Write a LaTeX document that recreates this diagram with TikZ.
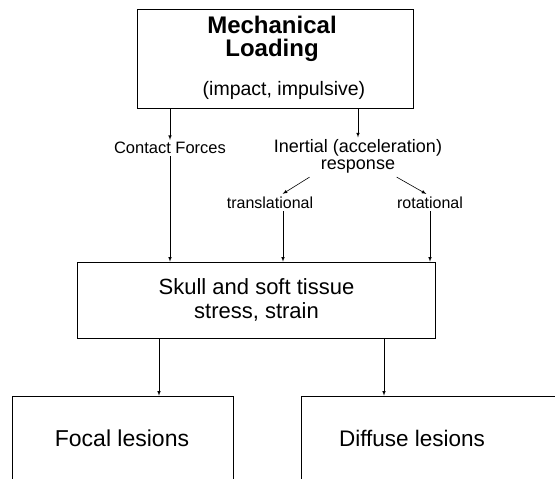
\documentclass[tikz,border=0pt]{standalone}
\usepackage{fontspec}
\setmainfont{Liberation Sans}
\usepackage{tikz}

\tikzset{
  box/.style={draw, line width=0.7pt, minimum width=#1, inner sep=0pt},
  lbl/.style={inner sep=2pt, align=center},
  arr/.style={-latex, line width=0.6pt}
}

\begin{document}
\begin{tikzpicture}[x=1pt, y=-1pt]
  \clip (0,0) rectangle (555,479);
  % Boxes
  \node[box=276pt, minimum height=99pt] (load) at (275,58.5) {};
  \node[box=358pt, minimum height=76pt] (tissue) at (256,300) {};
  \node[box=221pt, minimum height=140pt] (focal) at (122.5,466) {};
  \node[box=299pt, minimum height=140pt] (diffuse) at (450.5,466) {};
  % Box texts
  \node[lbl, font=\fontsize{24}{23}\selectfont\bfseries] (loadtxt) at (272,38.5)
    {Mechanical\\Loading};
  \node[lbl, font=\fontsize{19.5}{20}\selectfont] (impact) at (284,90) {(impact, impulsive)};
  \node[lbl, font=\fontsize{22}{24}\selectfont] (tissuetxt) at (256.5,300)
    {Skull and soft tissue\\stress, strain};
  \node[lbl, font=\fontsize{23}{24}\selectfont] (focaltxt) at (122,438) {Focal lesions};
  \node[lbl, font=\fontsize{22.5}{24}\selectfont] (diffusetxt) at (412,438) {Diffuse lesions};
  % Labels between boxes
  \node[lbl, font=\fontsize{16.5}{18}\selectfont] (contact) at (170,148) {Contact Forces};
  \node[lbl, font=\fontsize{18}{17}\selectfont] (inert) at (358,156.5)
    {Inertial (acceleration)\\response};
  \node[lbl, font=\fontsize{16}{18}\selectfont] (trans) at (270,203) {translational};
  \node[lbl, font=\fontsize{16}{18}\selectfont] (rot) at (430,203) {rotational};
  % Arrows
  \draw[arr] (load.south -| contact.north) -- (contact.north);
  \draw[arr] (load.south -| inert.north) -- (inert.north);
  \draw[arr, shorten <=3pt, shorten >=2pt] ([xshift=-46pt]inert.south) -- ([xshift=11pt]trans.north);
  \draw[arr, shorten <=3pt, shorten >=2pt] ([xshift=36pt]inert.south) -- ([xshift=-2pt]rot.north);
  \draw[arr] (contact.south) -- (contact.south |- tissue.north);
  \draw[arr] ([xshift=13pt]trans.south) -- ([xshift=13pt]trans.south |- tissue.north);
  \draw[arr] (rot.south) -- (rot.south |- tissue.north);
  \draw[arr] ([xshift=36.5pt]focal.north |- tissue.south) -- ([xshift=36.5pt]focal.north);
  \draw[arr] ([xshift=-66.5pt]diffuse.north |- tissue.south) -- ([xshift=-66.5pt]diffuse.north);
\end{tikzpicture}
\end{document}
